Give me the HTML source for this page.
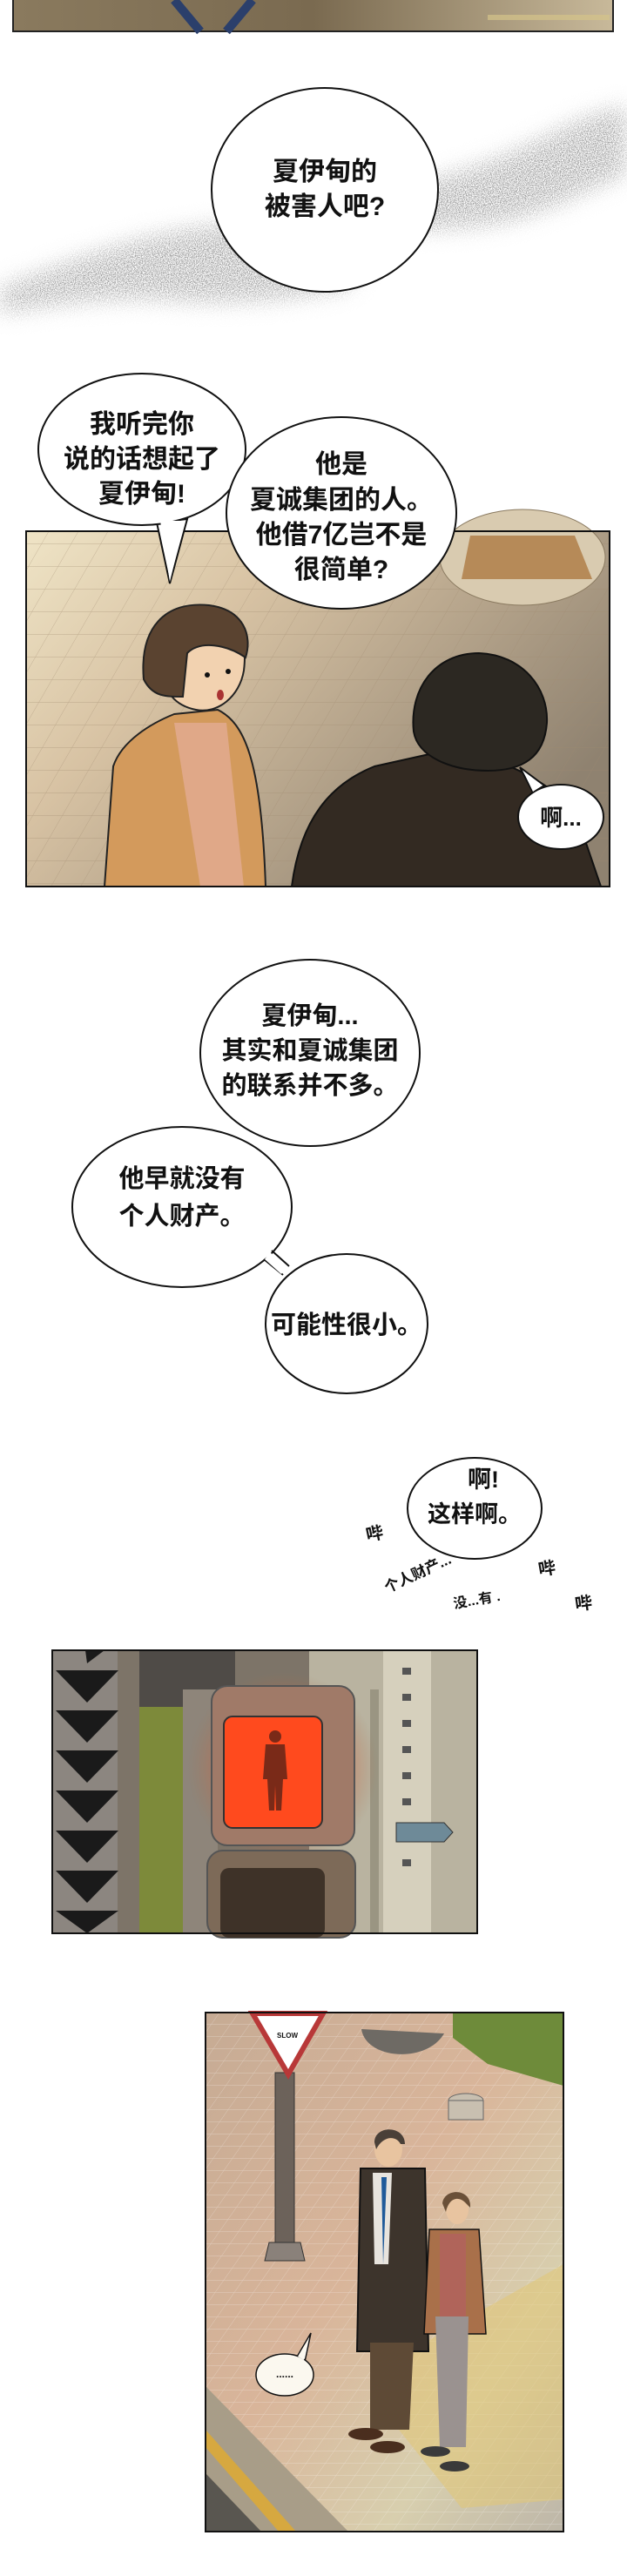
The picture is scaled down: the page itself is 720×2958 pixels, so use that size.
<!DOCTYPE html>
<html><head><meta charset="utf-8">
<style>
html,body{margin:0;padding:0;background:#fff;}
body{width:720px;height:2958px;overflow:hidden;position:relative;}
svg{position:absolute;left:0;top:0;}
text{font-family:"Liberation Sans","Noto Sans CJK SC",sans-serif;font-weight:bold;fill:#111;}
</style></head><body>
<svg width="720" height="2958" viewBox="0 0 720 2958" xmlns="http://www.w3.org/2000/svg">
<defs>
  <filter id="noise" x="0" y="0" width="100%" height="100%">
    <feGaussianBlur in="SourceGraphic" stdDeviation="12" result="b"/>
    <feTurbulence type="fractalNoise" baseFrequency="0.9" numOctaves="2" seed="3" result="t"/>
    <feColorMatrix in="t" type="matrix" values="0 0 0 0 0.25  0 0 0 0 0.25  0 0 0 0 0.25  -2.5 0 0 0 1.6" result="n"/>
    <feComposite in="n" in2="b" operator="in"/>
  </filter>
  <linearGradient id="g0" x1="0" y1="0" x2="1" y2="0">
    <stop offset="0" stop-color="#8a7a5e"/><stop offset="0.5" stop-color="#7a6a50"/><stop offset="1" stop-color="#c8b99a"/>
  </linearGradient>
  <linearGradient id="floor2" x1="0" y1="0" x2="1" y2="0.6">
    <stop offset="0" stop-color="#efe4c6"/><stop offset="0.35" stop-color="#d8c3a4"/><stop offset="1" stop-color="#8f8270"/>
  </linearGradient>
  <radialGradient id="glow" cx="0.5" cy="0.5" r="0.5">
    <stop offset="0" stop-color="#ff5a28" stop-opacity="0.9"/><stop offset="0.6" stop-color="#e0603a" stop-opacity="0.5"/><stop offset="1" stop-color="#a07050" stop-opacity="0"/>
  </radialGradient>
  <linearGradient id="floor4" x1="0" y1="0" x2="1" y2="1">
    <stop offset="0" stop-color="#c6ab94"/><stop offset="0.45" stop-color="#d9b59a"/><stop offset="0.75" stop-color="#d8cfae"/><stop offset="1" stop-color="#bdb6a8"/>
  </linearGradient>
  <pattern id="tiles" width="34" height="26" patternUnits="userSpaceOnUse" patternTransform="skewX(-30)">
    <path d="M0 0H34M0 0V26" stroke="#a08a70" stroke-width="1" fill="none" opacity="0.5"/>
  </pattern>
  <pattern id="tiles4" width="22" height="14" patternUnits="userSpaceOnUse" patternTransform="skewX(-35)">
    <path d="M0 0H22M0 0V14" stroke="#fff" stroke-width="1" fill="none" opacity="0.35"/>
  </pattern>
</defs>

<!-- Panel 0 top -->
<rect x="15" y="-2" width="689" height="38" fill="url(#g0)" stroke="#222" stroke-width="2"/>
<path d="M200 0 L230 36 M290 0 L260 36" stroke="#2b3f6b" stroke-width="10"/>
<path d="M560 20 L700 20" stroke="#d5c48a" stroke-width="6" opacity="0.7"/>

<!-- noise smoke -->
<g filter="url(#noise)">
  <rect x="0" y="0" width="720" height="420" fill="none"/>
  <path d="M0 330 C80 300 150 270 250 258 C320 250 360 270 420 295 L400 330 C340 345 260 350 200 345 C130 340 60 350 0 360 Z" fill="#000"/>
  <path d="M480 210 C560 190 600 170 660 140 C690 128 710 124 720 122 L720 200 C680 215 640 240 580 255 C540 262 500 265 470 262 Z" fill="#000"/>
</g>

<!-- Bubble 1 -->
<ellipse cx="373" cy="218" rx="130" ry="117" fill="#fff" stroke="#111" stroke-width="2"/>
<text x="373" y="207" font-size="30" text-anchor="middle">夏伊甸的</text>
<text x="373" y="247" font-size="30" text-anchor="middle">被害人吧?</text>

<!-- Panel 2 -->
<g>
  <rect x="30" y="610" width="670" height="408" fill="url(#floor2)"/>
  <rect x="30" y="610" width="670" height="408" fill="url(#tiles)"/>
  <ellipse cx="600" cy="640" rx="95" ry="55" fill="#d9cbb0" stroke="#8a7a60"/>
  <path d="M540 615 L660 615 L680 665 L530 665 Z" fill="#b68a58"/>
  <!-- woman -->
  <path d="M120 1018 L130 880 C140 850 175 830 200 820 L250 815 C280 830 300 870 305 1018 Z" fill="#d39a5c" stroke="#222" stroke-width="2"/>
  <path d="M200 830 L230 1018 L280 1018 L260 830 Z" fill="#e0a888"/>
  <path d="M185 770 C180 720 210 700 240 702 C270 705 285 730 280 770 C275 800 250 820 225 815 C200 810 190 795 185 770 Z" fill="#f2d2b0" stroke="#222" stroke-width="2"/>
  <path d="M165 780 C160 720 190 690 240 695 C280 700 290 730 282 755 C260 740 230 735 215 750 L210 800 C190 800 175 800 165 780 Z" fill="#5a4330" stroke="#222" stroke-width="2"/>
  <circle cx="238" cy="775" r="3" fill="#111"/><circle cx="262" cy="771" r="3" fill="#111"/>
  <ellipse cx="253" cy="798" rx="4" ry="6" fill="#a33"/>
  <!-- man -->
  <path d="M335 1018 C345 940 380 900 430 880 L520 860 C570 870 620 890 660 930 L690 1018 Z" fill="#332a22" stroke="#111" stroke-width="2"/>
  <path d="M475 840 C470 790 500 750 550 750 C600 752 630 790 628 830 C625 870 600 885 560 885 C520 885 480 870 475 840 Z" fill="#2c2822" stroke="#111" stroke-width="2"/>
  <rect x="30" y="610" width="670" height="408" fill="none" stroke="#111" stroke-width="2"/>
</g>

<!-- Left bubble -->
<path d="M180 600 L195 670 L215 596 Z" fill="#fff" stroke="#111" stroke-width="2"/>
<ellipse cx="163" cy="516" rx="119" ry="87" fill="#fff" stroke="#111" stroke-width="2"/>
<path d="M184 598 L195 668 L212 598" fill="#fff" stroke="none"/>
<text x="163" y="497" font-size="30" text-anchor="middle">我听完你</text>
<text x="163" y="537" font-size="30" text-anchor="middle">说的话想起了</text>
<text x="163" y="577" font-size="30" text-anchor="middle">夏伊甸!</text>

<!-- Right bubble -->
<ellipse cx="392" cy="589" rx="132" ry="110" fill="#fff" stroke="#111" stroke-width="2"/>
<text x="392" y="543" font-size="30" text-anchor="middle">他是</text>
<text x="392" y="584" font-size="30" text-anchor="middle">夏诚集团的人。</text>
<text x="392" y="624" font-size="30" text-anchor="middle">他借7亿岂不是</text>
<text x="392" y="664" font-size="30" text-anchor="middle">很简单?</text>

<!-- 啊... bubble -->
<path d="M597 881 L612 910 L625 902 Z" fill="#fff" stroke="#111" stroke-width="2"/>
<ellipse cx="644" cy="938" rx="49" ry="37" fill="#fff" stroke="#111" stroke-width="2"/>
<path d="M603 890 L612 909 L621 903" fill="#fff"/>
<text x="644" y="948" font-size="26" text-anchor="middle">啊...</text>

<!-- Bubble A -->
<ellipse cx="356" cy="1209" rx="126" ry="107" fill="#fff" stroke="#111" stroke-width="2"/>
<text x="356" y="1176" font-size="29" text-anchor="middle">夏伊甸...</text>
<text x="356" y="1216" font-size="29" text-anchor="middle">其实和夏诚集团</text>
<text x="356" y="1256" font-size="29" text-anchor="middle">的联系并不多。</text>

<!-- Bubble B -->
<ellipse cx="209" cy="1386" rx="126" ry="92" fill="#fff" stroke="#111" stroke-width="2"/>
<text x="209" y="1363" font-size="29" text-anchor="middle">他早就没有</text>
<text x="209" y="1406" font-size="29" text-anchor="middle">个人财产。</text>

<!-- connector -->
<path d="M312 1436 L332 1454 M303 1446 L325 1464" stroke="#111" stroke-width="2"/>
<path d="M310 1438 L330 1455 L323 1463 L304 1446 Z" fill="#fff"/>

<!-- Bubble C -->
<ellipse cx="398" cy="1520" rx="93" ry="80" fill="#fff" stroke="#111" stroke-width="2"/>
<text x="398" y="1531" font-size="29" text-anchor="middle">可能性很小。</text>

<!-- Bubble D -->
<ellipse cx="545" cy="1732" rx="77" ry="58" fill="#fff" stroke="#111" stroke-width="2"/>
<text x="555" y="1708" font-size="27" text-anchor="middle">啊!</text>
<text x="545" y="1748" font-size="27" text-anchor="middle">这样啊。</text>

<!-- SFX -->
<g font-weight="normal">
<text x="420" y="1768" font-size="20" transform="rotate(-12 430 1760)">哔</text>
<text x="438" y="1812" font-size="17" transform="rotate(-25 480 1805)">个人财产...</text>
<text x="520" y="1842" font-size="16" transform="rotate(-10 550 1835)">没...有 .</text>
<text x="618" y="1808" font-size="20" transform="rotate(-10 628 1800)">哔</text>
<text x="660" y="1848" font-size="20" transform="rotate(-8 670 1840)">哔</text>
</g>

<!-- Panel 3 -->
<g>
  <rect x="60" y="1895" width="488" height="325" fill="#7d7468"/>
  <rect x="160" y="1895" width="110" height="120" fill="#4f4b47"/>
  <rect x="160" y="1960" width="50" height="260" fill="#7d8a3a"/>
  <rect x="60" y="1895" width="75" height="325" fill="#8c8680"/>
  <g fill="#1a1a1a">
    <path d="M98 1895 L120 1895 L100 1910 Z"/>
    <path d="M64 1918 L136 1918 L100 1955 Z"/>
    <path d="M64 1964 L136 1964 L100 2001 Z"/>
    <path d="M64 2010 L136 2010 L100 2047 Z"/>
    <path d="M64 2056 L136 2056 L100 2093 Z"/>
    <path d="M64 2102 L136 2102 L100 2139 Z"/>
    <path d="M64 2148 L136 2148 L100 2185 Z"/>
    <path d="M64 2194 L136 2194 L100 2220 Z"/>
  </g>
  <rect x="355" y="1895" width="193" height="325" fill="#b9b3a0"/>
  <rect x="440" y="1895" width="55" height="325" fill="#d6d0bd"/>
  <g fill="#555"><rect x="462" y="1915" width="10" height="8"/><rect x="462" y="1945" width="10" height="8"/><rect x="462" y="1975" width="10" height="8"/><rect x="462" y="2005" width="10" height="8"/><rect x="462" y="2035" width="10" height="8"/><rect x="462" y="2065" width="10" height="8"/><rect x="462" y="2100" width="10" height="8"/><rect x="462" y="2135" width="10" height="8"/></g>
  <rect x="425" y="1940" width="10" height="280" fill="#9a9582"/>
  <path d="M455 2093 L510 2093 L520 2104 L510 2115 L455 2115 Z" fill="#6e8a98" stroke="#333"/>
  <rect x="210" y="1940" width="40" height="280" fill="#8e857a"/>
  <circle cx="325" cy="2030" r="110" fill="url(#glow)"/>
  <rect x="243" y="1936" width="164" height="183" rx="18" fill="#a07a68" stroke="#555" stroke-width="2"/>
  <rect x="257" y="1971" width="113" height="128" rx="10" fill="#ff4a1e" stroke="#333" stroke-width="2"/>
  <circle cx="316" cy="1994" r="7" fill="#7a2a18"/>
  <path d="M305 2003 L327 2003 L330 2043 L325 2043 L323 2079 L317 2079 L316 2050 L315 2079 L309 2079 L307 2043 L302 2043 Z" fill="#7a2a18"/>
  <rect x="238" y="2125" width="170" height="100" rx="18" fill="#7d6a58" stroke="#555" stroke-width="2"/>
  <rect x="253" y="2145" width="120" height="80" rx="10" fill="#3e3228"/>
  <rect x="60" y="1895" width="488" height="325" fill="none" stroke="#111" stroke-width="2"/>
</g>

<!-- Panel 4 -->
<g>
  <rect x="236" y="2311" width="411" height="596" fill="url(#floor4)"/>
  <rect x="236" y="2311" width="411" height="596" fill="url(#tiles4)"/>
  <path d="M520 2311 L647 2311 L647 2395 L560 2370 L520 2340 Z" fill="#6e8b3a"/>
  <path d="M415 2330 C420 2365 490 2370 510 2335 Z" fill="#6e6a64"/>
  <path d="M236 2740 L400 2907 L236 2907 Z" fill="#a89d88"/>
  <path d="M236 2790 L340 2907 L320 2907 L236 2810 Z" fill="#d6a840"/>
  <path d="M236 2840 L300 2907 L236 2907 Z" fill="#595650"/>
  <path d="M470 2700 L647 2600 L647 2870 L530 2880 L450 2780 Z" fill="#e2c774" opacity="0.55"/>
  <rect x="316" y="2380" width="22" height="210" fill="#6c625a" stroke="#333"/>
  <path d="M309 2575 L345 2575 L350 2596 L304 2596 Z" fill="#8a817a" stroke="#333"/>
  <path d="M290 2312 L371 2312 L331 2382 Z" fill="#fff" stroke="#b83838" stroke-width="6"/>
  <text x="330" y="2340" font-size="8" text-anchor="middle" font-family="Liberation Serif,serif" fill="#444">SLOW</text>
  <ellipse cx="535" cy="2412" rx="20" ry="8" fill="#c8bfb0" stroke="#666"/>
  <rect x="515" y="2412" width="40" height="22" fill="#c8bfb0" stroke="#666"/>
  <!-- man -->
  <path d="M414 2490 L488 2490 L492 2700 L410 2700 Z" fill="#3d342c" stroke="#111" stroke-width="2"/>
  <path d="M428 2495 L450 2495 L446 2600 L430 2600 Z" fill="#e8e4de"/>
  <path d="M438 2500 L444 2500 L440 2600 Z" fill="#1f5a9a"/>
  <path d="M425 2690 L475 2690 L470 2790 L425 2790 Z" fill="#5e4a36"/>
  <ellipse cx="420" cy="2795" rx="20" ry="7" fill="#4a2e1e"/>
  <ellipse cx="445" cy="2810" rx="20" ry="7" fill="#4a2e1e"/>
  <ellipse cx="446" cy="2468" rx="16" ry="20" fill="#e8c4a0"/>
  <path d="M430 2460 C430 2440 465 2440 465 2462 L460 2462 C455 2452 440 2452 432 2468 Z" fill="#4a4038"/>
  <!-- woman -->
  <path d="M493 2560 L550 2560 L558 2680 L487 2680 Z" fill="#a9704a" stroke="#111" stroke-width="1.5"/>
  <path d="M505 2565 L535 2565 L535 2665 L505 2665 Z" fill="#b0645a"/>
  <path d="M500 2660 L538 2660 L535 2810 L505 2810 Z" fill="#9a9290"/>
  <ellipse cx="500" cy="2815" rx="17" ry="6" fill="#3a3a3a"/>
  <ellipse cx="522" cy="2832" rx="17" ry="6" fill="#3a3a3a"/>
  <ellipse cx="525" cy="2537" rx="13" ry="17" fill="#e8c4a0"/>
  <path d="M508 2530 C510 2512 542 2512 540 2535 L535 2530 C528 2522 516 2522 512 2540 Z" fill="#6a5038"/>
  <rect x="236" y="2311" width="411" height="596" fill="none" stroke="#111" stroke-width="2"/>
</g>
<!-- small bubble -->
<path d="M340 2708 L357 2679 L350 2712 Z" fill="#fff" stroke="#111" stroke-width="1.5"/>
<ellipse cx="327" cy="2727" rx="33" ry="24" fill="#fbf8ef" stroke="#111" stroke-width="1.5"/>
<path d="M342 2706 L355 2684 L349 2710 Z" fill="#fbf8ef"/>
<text x="327" y="2730" font-size="12" text-anchor="middle" font-weight="normal">......</text>
</svg>
</body></html>
